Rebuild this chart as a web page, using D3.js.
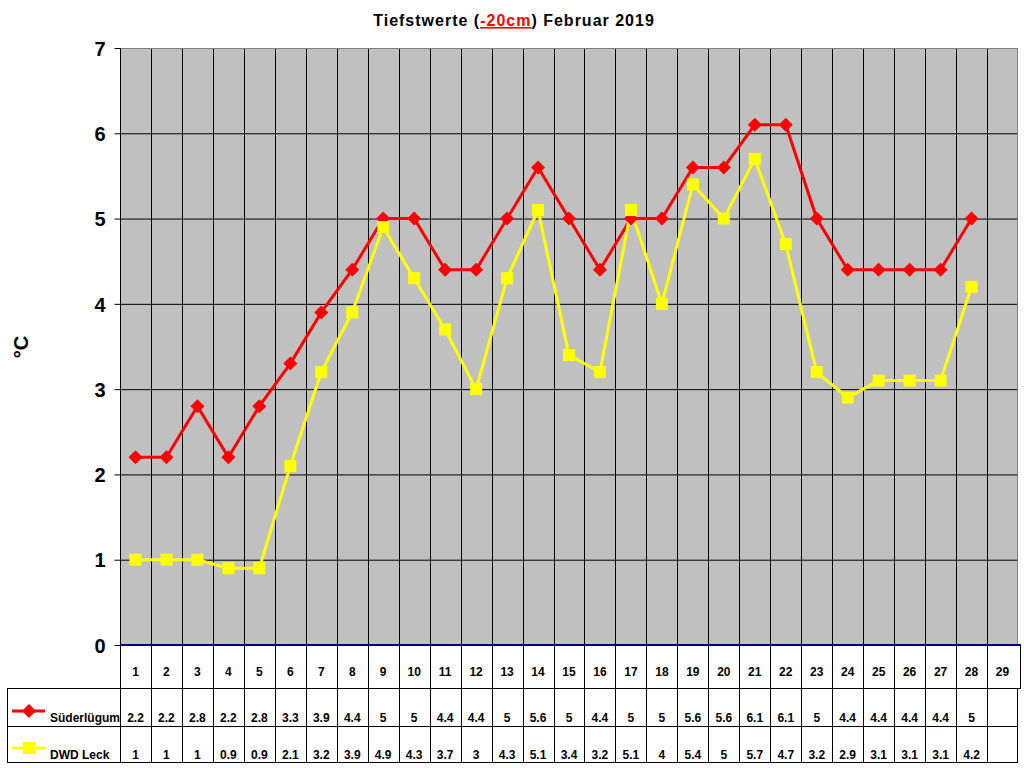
<!DOCTYPE html>
<html>
<head>
  <meta charset="utf-8">
  <style>
    body { margin: 0; background: #fff; }
    svg { font-family: "Liberation Sans", Arial, sans-serif; }
  </style>
</head>
<body>
  <div id="chart"></div>
  <script src="https://d3js.org/d3.v7.min.js"></script>
  <script>
    // Tageswerte Februar 2019
    var days = d3.range(1, 30);
    var suderlugum = [2.2, 2.2, 2.8, 2.2, 2.8, 3.3, 3.9, 4.4, 5, 5, 4.4, 4.4, 5, 5.6, 5, 4.4, 5, 5, 5.6, 5.6, 6.1, 6.1, 5, 4.4, 4.4, 4.4, 4.4, 5];
    var dwdLeck = [1, 1, 1, 0.9, 0.9, 2.1, 3.2, 3.9, 4.9, 4.3, 3.7, 3, 4.3, 5.1, 3.4, 3.2, 5.1, 4, 5.4, 5, 5.7, 4.7, 3.2, 2.9, 3.1, 3.1, 3.1, 4.2];
    var yTicks = [0, 1, 2, 3, 4, 5, 6, 7];

    var series = [
      {name: "Süderlügum", values: suderlugum, color: "#ff0000", marker: "diamond"},
      {name: "DWD Leck", values: dwdLeck, color: "#ffff00", marker: "square"}
    ];

    var W = 1024, H = 768;
    var plot = {left: 120, right: 1018, top: 48, bottom: 645};

    var svg = d3.select("#chart").append("svg")
        .attr("width", W)
        .attr("height", H);

    var x = d3.scaleBand()
        .domain(days)
        .range([plot.left, plot.right]);

    var y = d3.scaleLinear()
        .domain([0, 7])
        .range([plot.bottom, plot.top]);

    // title
    var title = svg.append("text")
        .attr("x", 514)
        .attr("y", 26)
        .attr("text-anchor", "middle")
        .style("font-size", "16px")
        .style("letter-spacing", "1px")
        .style("font-weight", "bold");
    title.append("tspan").text("Tiefstwerte (");
    title.append("tspan").attr("fill", "#ff0000").style("text-decoration", "underline").text("-20cm");
    title.append("tspan").text(") Februar 2019");

    // plot background
    svg.append("rect")
        .attr("x", plot.left)
        .attr("y", plot.top)
        .attr("width", plot.right - plot.left)
        .attr("height", plot.bottom - plot.top)
        .attr("fill", "#c0c0c0");

    // horizontal grid
    svg.append("g")
        .selectAll("line")
        .data(yTicks.slice(1, -1))
        .join("line")
        .attr("x1", plot.left)
        .attr("x2", plot.right)
        .attr("y1", d => y(d) + 0.5)
        .attr("y2", d => y(d) + 0.5)
        .attr("stroke", "#000");

    // vertical grid
    svg.append("g")
        .selectAll("line")
        .data(days.slice(1))
        .join("line")
        .attr("x1", d => Math.round(x(d)) + 0.5)
        .attr("x2", d => Math.round(x(d)) + 0.5)
        .attr("y1", plot.top)
        .attr("y2", plot.bottom)
        .attr("stroke", "#000");

    // top border gray, right border
    svg.append("line")
        .attr("x1", plot.left).attr("x2", plot.right)
        .attr("y1", plot.top + 0.5).attr("y2", plot.top + 0.5)
        .attr("stroke", "#808080");
    svg.append("line")
        .attr("x1", plot.right - 0.5).attr("x2", plot.right - 0.5)
        .attr("y1", plot.top).attr("y2", plot.bottom)
        .attr("stroke", "#808080");

    // y axis
    var yAxis = d3.axisLeft(y)
        .tickValues(yTicks)
        .tickFormat(d3.format("d"))
        .tickSize(6)
        .tickPadding(9);
    var gy = svg.append("g")
        .attr("transform", "translate(" + (plot.left + 0.5) + ",0)")
        .call(yAxis);
    gy.select(".domain").attr("stroke", "#000").attr("d", "M0," + plot.top + "V" + plot.bottom);
    gy.selectAll(".tick line").attr("stroke", "#000");
    gy.selectAll(".tick text")
        .attr("fill", "#000")
        .attr("dy", "0.36em")
        .style("font-size", "20px")
        .style("font-weight", "bold")
        .style("font-family", "'Liberation Sans', Arial, sans-serif");

    svg.append("text")
        .attr("transform", "translate(28," + 347 + ") rotate(-90)")
        .attr("text-anchor", "middle")
        .style("font-size", "20px")
        .style("font-weight", "bold")
        .text("°C");

    // x axis line (dark blue)
    svg.append("line")
        .attr("x1", plot.left)
        .attr("x2", plot.right + 3)
        .attr("y1", plot.bottom)
        .attr("y2", plot.bottom)
        .attr("stroke", "#000080")
        .attr("stroke-width", 2);

    // series lines + markers
    var line = d3.line()
        .x((d, i) => x(days[i]) + x.bandwidth() / 2)
        .y(d => y(d));

    series.forEach(function (s) {
      svg.append("path")
          .datum(s.values)
          .attr("d", line)
          .attr("fill", "none")
          .attr("stroke", s.color)
          .attr("stroke-width", 3);
    });

    function drawMarker(g, type, color) {
      if (type === "diamond") {
        g.append("path").attr("d", "M0,-7L7,0L0,7L-7,0Z").attr("fill", color);
      } else {
        g.append("rect").attr("x", -6).attr("y", -6).attr("width", 12).attr("height", 12).attr("fill", color);
      }
    }

    series.forEach(function (s) {
      svg.append("g")
          .selectAll("g")
          .data(s.values)
          .join("g")
          .attr("transform", (d, i) => "translate(" + (x(days[i]) + x.bandwidth() / 2) + "," + y(d) + ")")
          .each(function () { drawMarker(d3.select(this), s.marker, s.color); });
    });

    // data table
    var rows = {top: plot.bottom, r1: 688, r2: 726, bottom: 762};
    var table = svg.append("g").attr("stroke", "#000").attr("stroke-width", 1);

    // column verticals
    table.selectAll("line.v")
        .data(days.concat([30]))
        .join("line")
        .attr("class", "v")
        .attr("x1", d => d === 30 ? plot.right + 2.5 : Math.round(x(d)) + 0.5)
        .attr("x2", d => d === 30 ? plot.right + 2.5 : Math.round(x(d)) + 0.5)
        .attr("y1", rows.top)
        .attr("y2", d => d === 30 ? rows.r1 : rows.bottom);

    table.append("line")
        .attr("x1", plot.right - 0.5).attr("x2", plot.right - 0.5)
        .attr("y1", rows.r1).attr("y2", rows.bottom);
    table.append("line")
        .attr("x1", 7.5).attr("x2", 7.5)
        .attr("y1", rows.r1).attr("y2", rows.bottom);

    [rows.r1, rows.r2, rows.bottom].forEach(function (yy) {
      table.append("line")
          .attr("x1", 7).attr("x2", yy === rows.r1 ? plot.right + 3 : plot.right)
          .attr("y1", yy + 0.5).attr("y2", yy + 0.5);
    });

    var textStyle = function (sel) {
      sel.attr("text-anchor", "middle")
          .style("font-size", "12px")
          .style("font-weight", "bold");
    };

    svg.append("g")
        .selectAll("text")
        .data(days)
        .join("text")
        .attr("x", d => x(d) + x.bandwidth() / 2)
        .attr("y", 676)
        .call(textStyle)
        .text(d => d);

    var rowBase = [722, 759];
    var legendY = [711, 748];
    series.forEach(function (s, k) {
      svg.append("g")
          .selectAll("text")
          .data(s.values)
          .join("text")
          .attr("x", (d, i) => x(days[i]) + x.bandwidth() / 2)
          .attr("y", rowBase[k])
          .call(textStyle)
          .text(d => d);

      svg.append("line")
          .attr("x1", 12).attr("x2", 45)
          .attr("y1", legendY[k]).attr("y2", legendY[k])
          .attr("stroke", s.color)
          .attr("stroke-width", 3);
      var m = svg.append("g").attr("transform", "translate(29," + legendY[k] + ")");
      drawMarker(m, s.marker, s.color);

      svg.append("text")
          .attr("x", 50)
          .attr("y", rowBase[k])
          .style("font-size", "12px")
          .style("font-weight", "bold")
          .text(s.name);
    });
  </script>
</body>
</html>
